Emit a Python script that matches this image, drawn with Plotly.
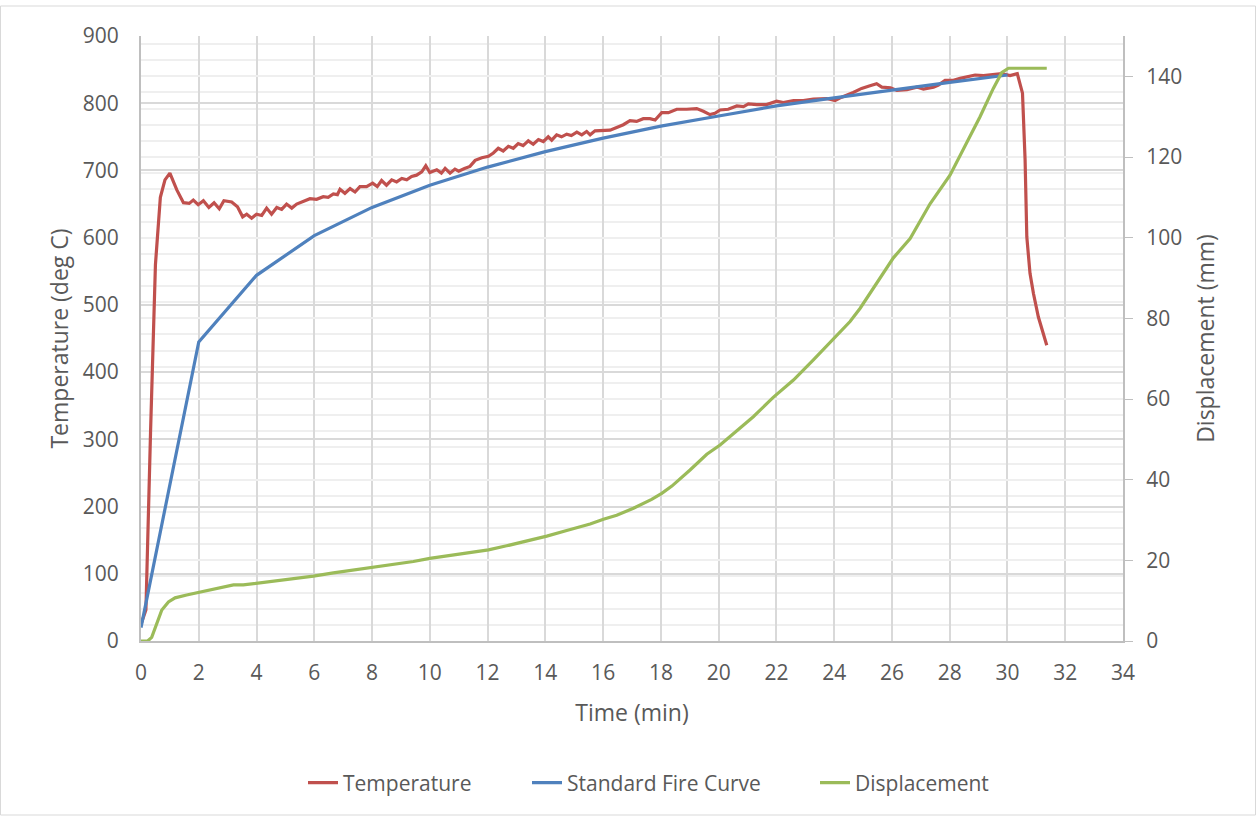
import plotly.graph_objects as go

# ---------------- data ----------------
temp_time = [0, 0.17, 0.33, 0.5, 0.67, 0.83, 1.0, 1.24, 1.47, 1.67, 1.81, 1.98, 2.16, 2.35,
             2.53, 2.71, 2.87, 3.14, 3.34, 3.52, 3.66, 3.83, 4.0, 4.18, 4.35, 4.52, 4.7,
             4.87, 5.04, 5.22, 5.39, 5.62, 5.85, 6.08, 6.31, 6.48, 6.66, 6.8, 6.89, 7.06,
             7.24, 7.41, 7.58, 7.81, 8.02, 8.18, 8.33, 8.5, 8.68, 8.85, 9.03, 9.2, 9.37,
             9.54, 9.72, 9.86, 10.0, 10.24, 10.4, 10.53, 10.7, 10.87, 11.0, 11.2, 11.39,
             11.57, 11.8, 12.03, 12.2, 12.37, 12.54, 12.72, 12.89, 13.06, 13.23, 13.41,
             13.58, 13.76, 13.93, 14.1, 14.22, 14.39, 14.56, 14.74, 14.9, 15.09, 15.26,
             15.43, 15.55, 15.72, 16.0, 16.24, 16.47, 16.7, 16.93, 17.16, 17.39, 17.62,
             17.8, 18.03, 18.26, 18.55, 18.89, 19.24, 19.47, 19.7, 19.87, 20.05, 20.33,
             20.63, 20.86, 21.03, 21.32, 21.66, 22.01, 22.24, 22.59, 22.93, 23.28, 23.74,
             24.03, 24.26, 24.66, 24.95, 25.24, 25.47, 25.65, 25.95, 26.17, 26.52, 26.86,
             27.09, 27.44, 27.61, 27.84, 28.13, 28.36, 28.59, 28.88, 29.17, 29.51, 29.8,
             30.09, 30.34, 30.52, 30.61, 30.67, 30.78, 30.9, 31.07, 31.36]
temperature = [25, 46, 310, 560, 660, 686, 696, 671, 652, 651, 656, 649, 655, 645,
               652, 643, 655, 653, 646, 631, 635, 629, 635, 633, 644, 635, 645,
               642, 650, 644, 650, 654, 658, 657, 661, 660, 665, 664, 672, 666,
               673, 668, 676, 676, 681, 676, 685, 678, 686, 683, 688, 686, 691,
               693, 698, 707, 697, 701, 696, 703, 696, 702, 699, 703, 706,
               715, 719, 721, 726, 733, 729, 736, 733, 740, 737, 744,
               739, 746, 743, 750, 745, 753, 750, 754, 752, 757, 753,
               758, 753, 759, 759, 760, 764, 768, 774, 773, 777, 777,
               775, 786, 786, 791, 791, 792, 788, 783, 785, 790, 791,
               796, 795, 799, 798, 798, 803, 801, 804, 804, 806, 807,
               804, 809, 816, 822, 826, 829, 824, 823, 819, 820, 824,
               821, 824, 827, 834, 834, 837, 839, 842, 841, 842, 844,
               841, 844, 815, 716, 601, 547, 517, 482, 440]

fire_time = [0, 2, 4, 6, 8, 10, 12, 14, 16, 18, 20, 22, 24, 26, 28, 30]
fire_temp = [20, 445, 544, 603, 645, 678, 705, 728, 748, 766, 781, 796, 808, 820, 831, 842]

disp_time = [0, 0.23, 0.37, 0.54, 0.72, 0.95, 1.18, 1.58, 1.98, 2.39, 2.79, 3.2, 3.54, 4.0,
             4.58, 5.27, 5.97, 6.66, 7.35, 8.04, 8.74, 9.43, 10.0, 10.81, 11.51, 12.03,
             12.66, 13.36, 14.05, 14.74, 15.55, 16.01, 16.47, 17.05, 17.68, 18.03, 18.38,
             19.01, 19.59, 20.05, 20.51, 21.2, 21.89, 22.59, 23.28, 23.97, 24.55, 24.9,
             25.36, 25.7, 26.05, 26.63, 27.32, 28.01, 28.59, 29.05, 29.51, 29.8, 30.03,
             30.5, 31.0, 31.36]
displacement = [0, 0, 0.9, 4.4, 7.7, 9.7, 10.7, 11.4, 12.0, 12.8, 13.3, 13.9, 13.9, 14.3,
                14.7, 15.4, 16.1, 16.9, 17.6, 18.2, 19.0, 19.7, 20.5, 21.3, 22.0, 22.6,
                23.6, 24.8, 26.0, 27.4, 29.0, 30.2, 31.2, 32.9, 35.1, 36.6, 38.4,
                42.4, 46.3, 48.6, 51.5, 55.6, 60.4, 64.7, 69.7, 74.9, 79.2, 82.5,
                87.5, 91.2, 95.0, 99.8, 108.4, 115.5, 123.4, 130.0, 137.0, 140.9, 142.0,
                142.0, 142.0, 142.0]

x_ticks = list(range(0, 35, 2))
left_ticks = list(range(0, 901, 100))
right_ticks = list(range(0, 141, 20))

# ---------------- figure ----------------
TXT = "#595959"
FONT = "Open Sans"
L, R, T, B = 141, 134, 36, 175
PW, PH = 1257 - L - R, 816 - T - B


def px_x(p):
    return (p - L) / PW


def px_y(p):
    return (816 - B - p) / PH


fig = go.Figure()
fig.add_trace(go.Scatter(x=temp_time, y=temperature, name="Temperature", mode="lines",
                         line=dict(color="#C0504D", width=3.2), legend="legend"))
fig.add_trace(go.Scatter(x=fire_time, y=fire_temp, name="Standard Fire Curve", mode="lines",
                         line=dict(color="#4F81BD", width=3.2), legend="legend2"))
fig.add_trace(go.Scatter(x=disp_time, y=displacement, name="Displacement", mode="lines",
                         line=dict(color="#9BBB59", width=3.2), yaxis="y2", legend="legend3"))

leg = dict(orientation="h", xanchor="left", yanchor="middle", y=px_y(783),
           font=dict(size=21, color=TXT), bgcolor="rgba(0,0,0,0)", borderwidth=0)

fig.update_layout(
    width=1257, height=816,
    margin=dict(l=L, r=R, t=T, b=B),
    paper_bgcolor="white", plot_bgcolor="white",
    font=dict(family=FONT, color=TXT, size=21),
    showlegend=True,
    legend=dict(leg, x=px_x(303)),
    legend2=dict(leg, x=px_x(527)),
    legend3=dict(leg, x=px_x(815)),
    xaxis=dict(range=[0, 34], tickvals=x_ticks, showgrid=True, gridcolor="#D9D9D9",
               gridwidth=1.5, showline=True, linecolor="#BFBFBF", linewidth=2,
               zeroline=False, ticks="", ticklabelstandoff=12,
               title=dict(text="Time (min)", font=dict(size=23), standoff=20),
               tickfont=dict(size=21, color=TXT)),
    yaxis=dict(range=[0, 900], tickvals=left_ticks, showgrid=True, gridcolor="#D9D9D9",
               gridwidth=1.5, showline=True, linecolor="#BFBFBF", linewidth=2,
               zeroline=False, ticks="", ticklabelstandoff=16,
               title=dict(text="Temperature (deg C)", font=dict(size=23), standoff=8),
               tickfont=dict(size=21, color=TXT)),
    yaxis2=dict(range=[0, 150], tickvals=right_ticks, overlaying="y", side="right",
                showgrid=True, gridcolor="#EFEFEF", gridwidth=1.5,
                minor=dict(dtick=4, tick0=0, showgrid=True, gridcolor="#EFEFEF", gridwidth=1.5),
                showline=True, linecolor="#BFBFBF", linewidth=2, zeroline=False,
                ticks="outside", ticklen=8, tickcolor="#BFBFBF", ticklabelstandoff=9,
                title=dict(text="Displacement (mm)", font=dict(size=23), standoff=17),
                tickfont=dict(size=21, color=TXT)),
)

# light chart border
fig.add_shape(type="rect", xref="paper", yref="paper",
              x0=px_x(0.5), x1=px_x(1255.5), y0=px_y(815), y1=px_y(6),
              line=dict(color="#D9D9D9", width=1), fillcolor="rgba(0,0,0,0)", layer="below")

fig.write_html("out.html", config={"displayModeBar": False},
               post_script="document.body.style.margin='0';")
